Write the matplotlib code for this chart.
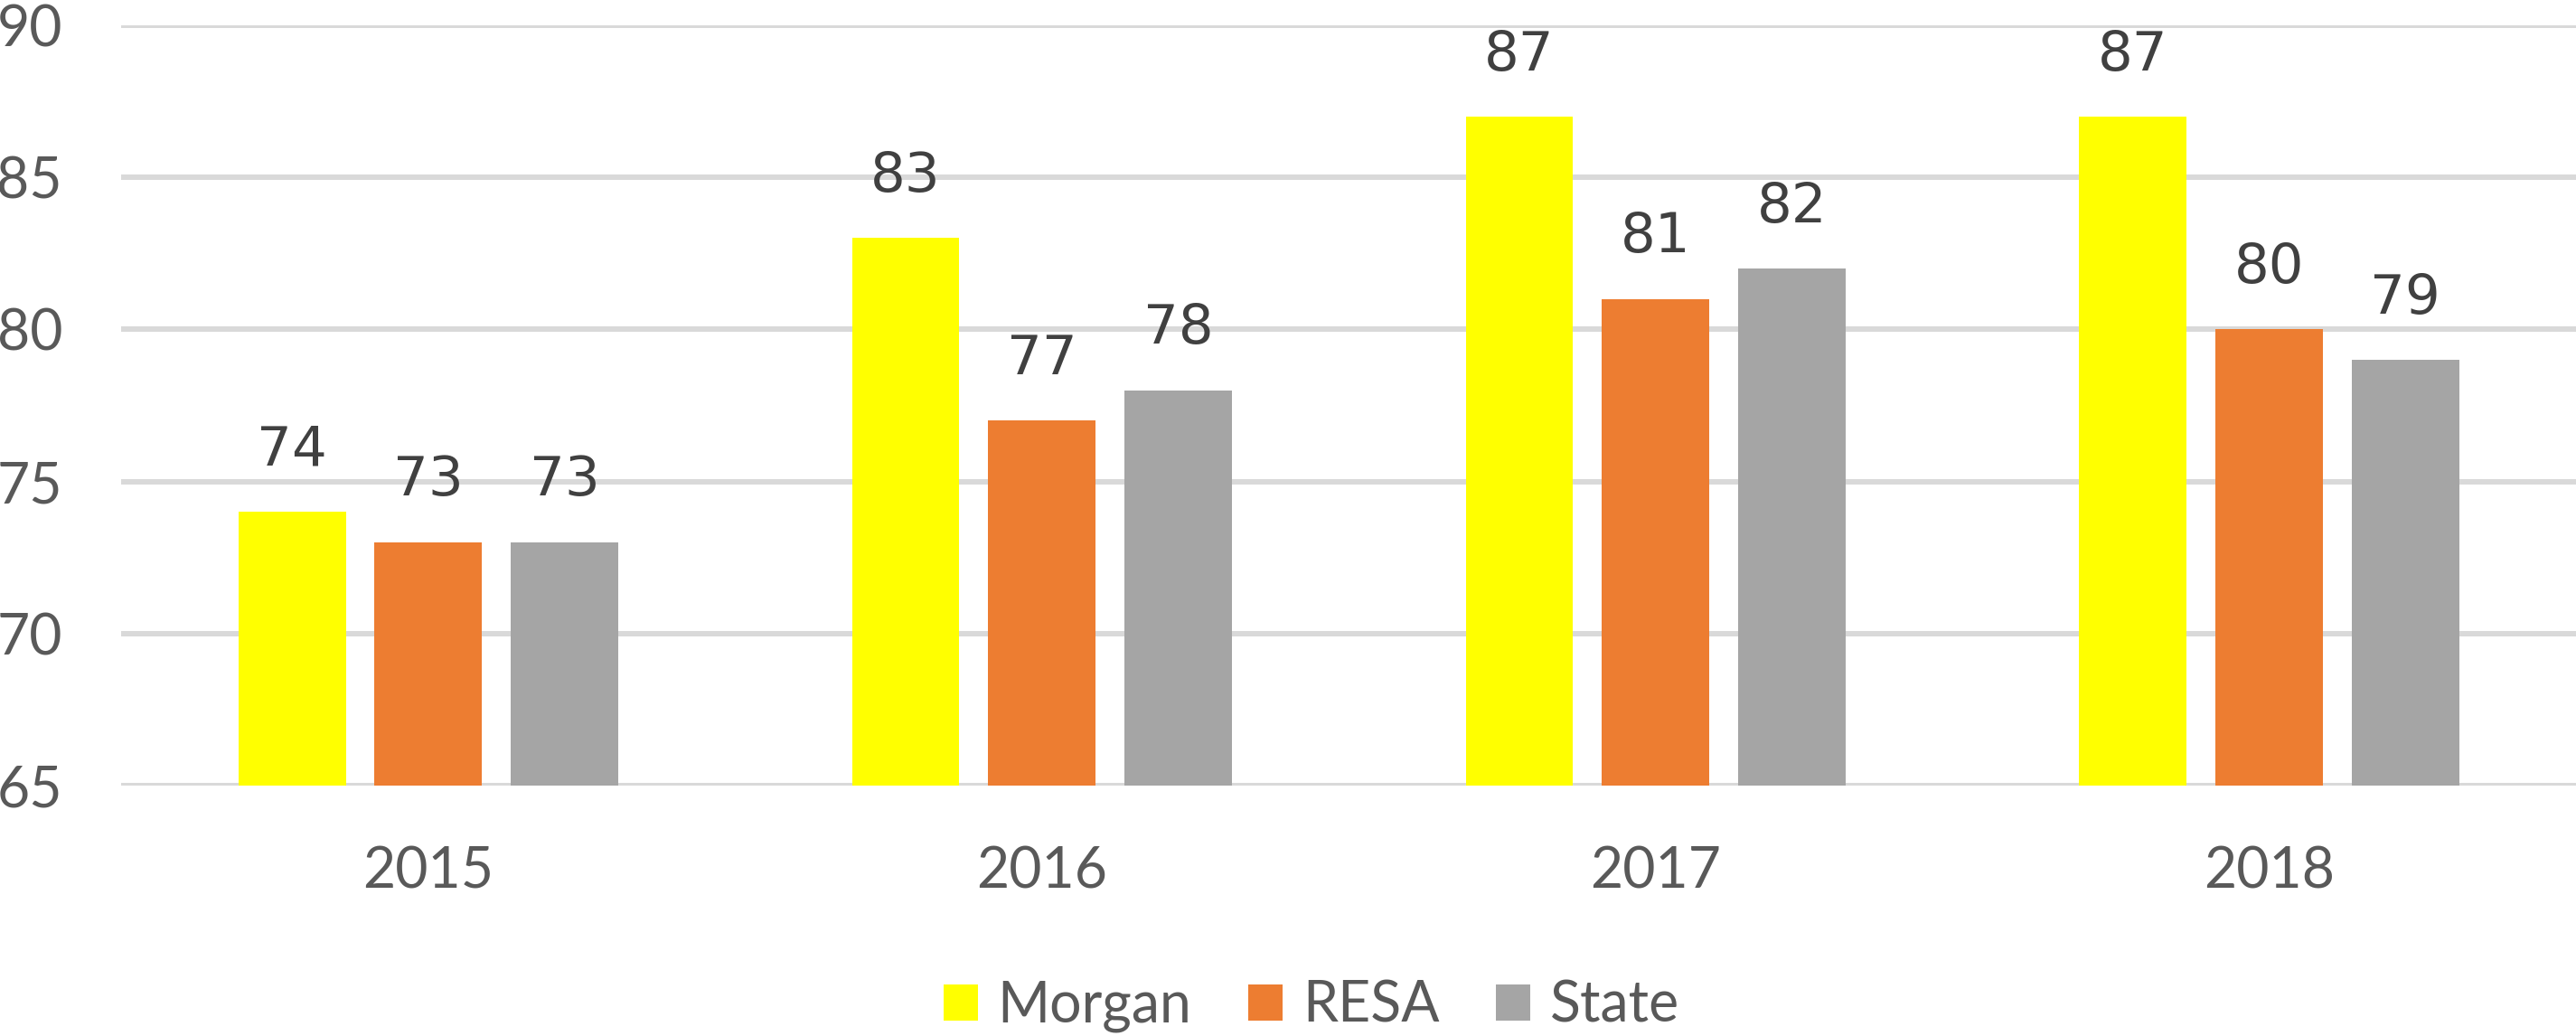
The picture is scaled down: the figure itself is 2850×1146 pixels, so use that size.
import numpy as np
import matplotlib
matplotlib.use("Agg")
import matplotlib.pyplot as plt

years = ["2015", "2016", "2017", "2018"]
series_names = ["Morgan", "RESA", "State"]
morgan = [74, 83, 87, 87]
resa = [73, 77, 81, 80]
state = [73, 78, 82, 79]
colors = ["#FFFF00", "#ED7D31", "#A5A5A5"]
y_ticks = [65, 70, 75, 80, 85, 90]

fig = plt.figure(figsize=(28.5, 11.46), dpi=100)
ax = fig.add_axes([134.4 / 2850, 1 - 869 / 1146, 1 - 134.4 / 2850, (869 - 28) / 1146])

x = np.arange(len(years))
width = 0.175
step = 0.222
tick_font = "Lato"
for i, (name, vals) in enumerate(zip(series_names, [morgan, resa, state])):
    bars = ax.bar(x + (i - 1) * step, vals, width, color=colors[i], label=name, zorder=3)
    for b, v in zip(bars, vals):
        ax.annotate(str(v), (b.get_x() + b.get_width() / 2, v), xytext=(0, 37),
                    textcoords="offset points", ha="center", va="baseline",
                    fontsize=44, color="#404040", family="DejaVu Sans")

ax.set_xlim(-0.5, 3.5)
ax.set_ylim(65, 90)
ax.set_yticks(y_ticks)
ax.set_xticks(x)
ax.set_xticklabels(years)
ax.yaxis.grid(True, color="#D9D9D9", linewidth=4.3, zorder=0)
ax.set_axisbelow(True)
for s in ax.spines.values():
    s.set_visible(False)
ax.tick_params(axis="both", length=0, labelsize=45, labelcolor="#595959")
ax.tick_params(axis="y", pad=47)
ax.tick_params(axis="x", pad=48)
for lab in ax.get_xticklabels() + ax.get_yticklabels():
    lab.set_family(tick_font)

leg = fig.legend(loc="center", bbox_to_anchor=(1451 / 2850, 1 - 1113 / 1146), ncol=3,
                 frameon=False, prop={"family": tick_font, "size": 45},
                 handlelength=0.61, handleheight=0.61, handletextpad=0.35,
                 columnspacing=1.0, borderpad=0, borderaxespad=0)
for t in leg.get_texts():
    t.set_color("#595959")

fig.savefig("out.png", dpi=100)
